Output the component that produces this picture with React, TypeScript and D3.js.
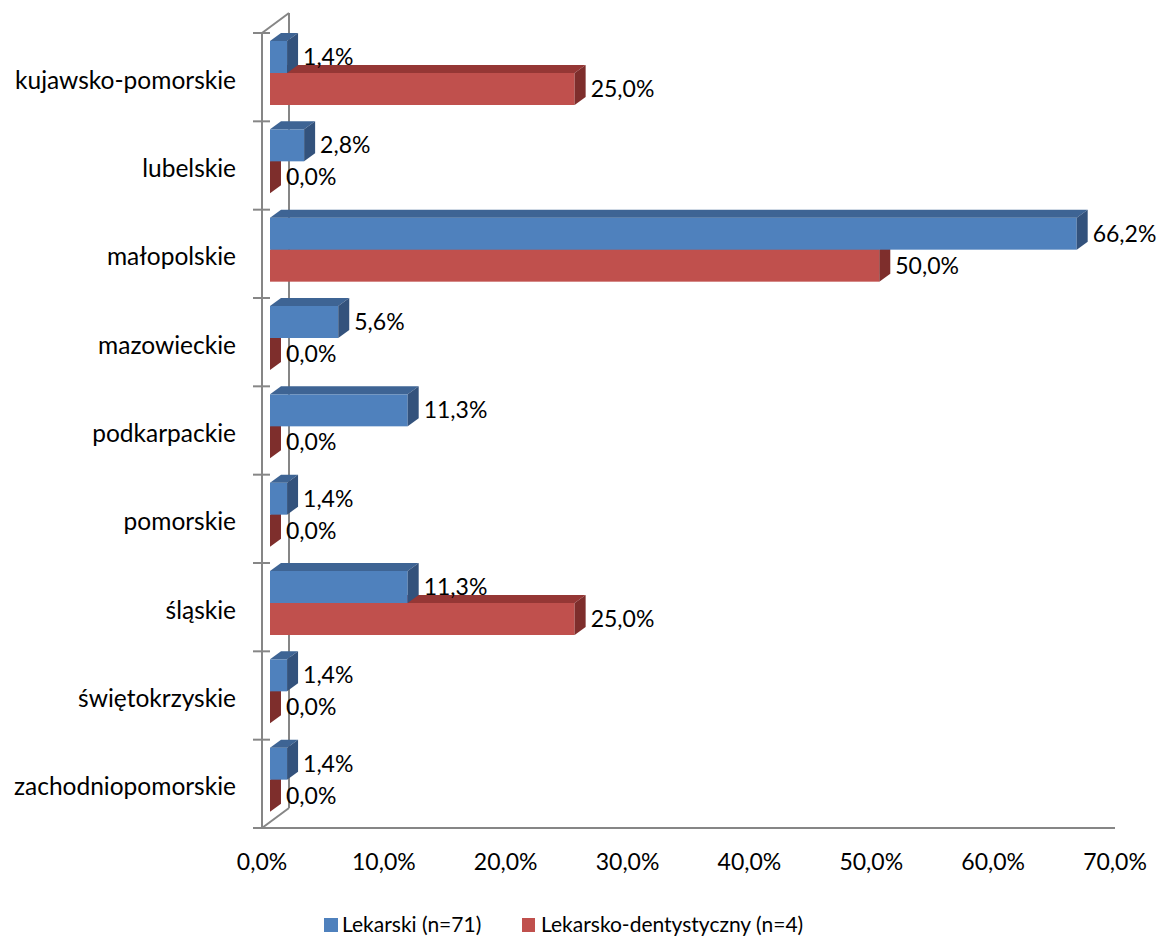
import React from "react";
import * as d3 from "d3";

const categories = [
  "kujawsko-pomorskie",
  "lubelskie",
  "małopolskie",
  "mazowieckie",
  "podkarpackie",
  "pomorskie",
  "śląskie",
  "świętokrzyskie",
  "zachodniopomorskie",
];
const lekarski = [0.014, 0.028, 0.662, 0.056, 0.113, 0.014, 0.113, 0.014, 0.014];
const dentystyczny = [0.25, 0, 0.5, 0, 0, 0, 0.25, 0, 0];
const xTicks = [0, 0.1, 0.2, 0.3, 0.4, 0.5, 0.6, 0.7];
const seriesNames = ["Lekarski (n=71)", "Lekarsko-dentystyczny (n=4)"];

const W = 1160;
const H = 940;
const FONT = "Lato, 'Open Sans', sans-serif";
const AXIS = "#868686";
const LABEL_SIZE = 23;
const CAT_SIZE = 24.5;
const LEGEND_SIZE = 21;

// 3D offsets of the bar depth
const DX = 11;
const DY = 8;
const WALL_DX = 27;
const WALL_DY = 20;

const blue = { front: "#4F81BD", top: "#3E6494", side: "#33527C" };
const red = { front: "#C0504D", top: "#953735", side: "#7E2E2C" };

const pl = d3.formatLocale({
  decimal: ",",
  thousands: " ",
  grouping: [3],
  currency: ["", " zł"],
});
const pct = pl.format(".1%");

function Bar3D({ x0, x1, y, h, c }: { x0: number; x1: number; y: number; h: number; c: typeof blue }) {
  return (
    <g>
      <rect x={x0} y={y} width={Math.max(0, x1 - x0)} height={h} fill={c.front} />
      <polygon
        points={`${x0},${y} ${x0 + DX},${y - DY} ${x1 + DX},${y - DY} ${x1},${y}`}
        fill={c.top}
      />
      <polygon
        points={`${x1},${y} ${x1 + DX},${y - DY} ${x1 + DX},${y + h - DY} ${x1},${y + h}`}
        fill={c.side}
      />
    </g>
  );
}

export default function App() {
  const x = d3.scaleLinear().domain([0, 0.7]).range([262, 1115]);
  const y = d3.scaleBand<string>().domain(categories).range([33, 828]);
  const bw = y.bandwidth();
  const barH = 32;
  const barOff = 8; // bars sit a bit inside the depth of the plot
  const left = x(0);
  const top = y.range()[0];
  const bottom = y.range()[1];

  const bx = (v: number) => x(v) + barOff;
  const blueY = (c: string) => (y(c) as number) + barOff;
  const redY = (c: string) => (y(c) as number) + barOff + barH;

  return (
    <svg
      width={W}
      height={H}
      style={{ position: "absolute", left: 0, top: 0, background: "#fff" }}
      fontFamily={FONT}
    >
      {/* walls / axes */}
      <g stroke={AXIS} strokeWidth={2} fill="none">
        <line x1={left + WALL_DX} y1={top - WALL_DY} x2={left + WALL_DX} y2={bottom - WALL_DY} />
        <line x1={left} y1={top} x2={left + WALL_DX} y2={top - WALL_DY} />
        <line x1={left} y1={bottom} x2={left + WALL_DX} y2={bottom - WALL_DY} />
        <line x1={left} y1={top} x2={left} y2={bottom} />
        <line x1={left - 9} y1={bottom} x2={x(0.7)} y2={bottom} />
        {categories.map((c) => (
          <line key={c} x1={left - 9} x2={left + 8} y1={y(c)} y2={y(c)} />
        ))}
      </g>

      {/* bars: red first so blue covers its top face */}
      {categories.map((c, i) => (
        <Bar3D key={"r" + c} x0={bx(0)} x1={bx(dentystyczny[i])} y={redY(c)} h={barH} c={red} />
      ))}
      {categories.map((c, i) => (
        <Bar3D key={"b" + c} x0={bx(0)} x1={bx(lekarski[i])} y={blueY(c)} h={barH} c={blue} />
      ))}

      {/* data labels */}
      <g fontSize={LABEL_SIZE} fill="#000">
        {categories.map((c, i) => (
          <g key={"l" + c}>
            <text x={bx(lekarski[i]) + 16} y={blueY(c) + barH / 2} dy="0.35em">
              {pct(lekarski[i])}
            </text>
            <text x={bx(dentystyczny[i]) + 16} y={redY(c) + barH / 2} dy="0.35em">
              {pct(dentystyczny[i])}
            </text>
          </g>
        ))}
      </g>

      {/* category labels */}
      <g fontSize={CAT_SIZE} fill="#000" textAnchor="end">
        {categories.map((c) => (
          <text key={c} x={236} y={(y(c) as number) + bw / 2 + 3} dy="0.35em">
            {c}
          </text>
        ))}
      </g>

      {/* x tick labels */}
      <g fontSize={LABEL_SIZE} fill="#000" textAnchor="middle">
        {xTicks.map((t) => (
          <text key={t} x={x(t)} y={862} dy="0.35em">
            {pct(t)}
          </text>
        ))}
      </g>

      {/* legend */}
      <g fontSize={LEGEND_SIZE} fill="#000">
        <rect x={324} y={918} width={14} height={14} fill={blue.front} />
        <text x={342} y={925} dy="0.35em">
          {seriesNames[0]}
        </text>
        <rect x={522} y={918} width={13} height={14} fill={red.front} />
        <text x={541} y={925} dy="0.35em">
          {seriesNames[1]}
        </text>
      </g>
    </svg>
  );
}
